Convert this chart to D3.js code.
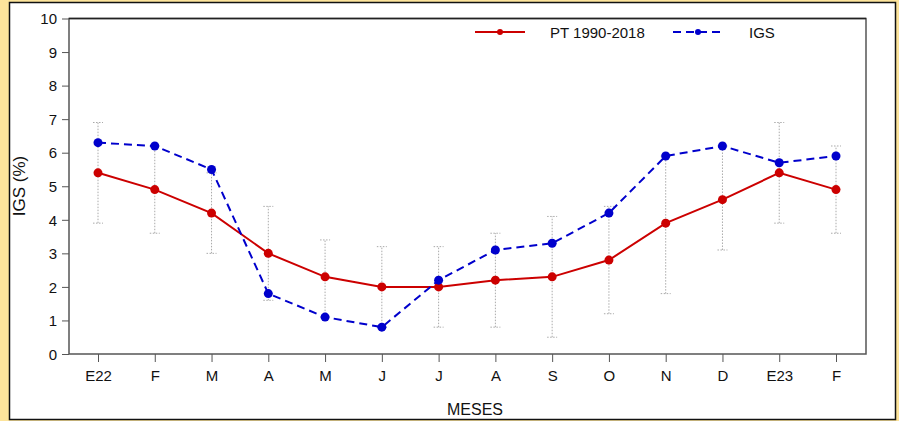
<!DOCTYPE html>
<html>
<head>
<meta charset="utf-8">
<script src="https://cdn.jsdelivr.net/npm/d3@7"></script>
<style>
  html, body { margin: 0; padding: 0; background: #fde49b; }
  svg { display: block; }
</style>
</head>
<body>
<svg id="chart" width="899" height="421"></svg>
<script>
const months = ["E22","F","M","A","M","J","J","A","S","O","N","D","E23","F"];
const ptValues  = [5.4, 4.9, 4.2, 3.0, 2.3, 2.0, 2.0, 2.2, 2.3, 2.8, 3.9, 4.6, 5.4, 4.9];
const igsValues = [6.3, 6.2, 5.5, 1.8, 1.1, 0.8, 2.2, 3.1, 3.3, 4.2, 5.9, 6.2, 5.7, 5.9];
const errLow  = [3.9, 3.6, 3.0, 1.6, 1.1, 0.8, 0.8, 0.8, 0.5, 1.2, 1.8, 3.1, 3.9, 3.6];
const errHigh = [6.9, 6.2, 5.4, 4.4, 3.4, 3.2, 3.2, 3.6, 4.1, 4.4, 5.9, 6.2, 6.9, 6.2];
const yTicks = [0,1,2,3,4,5,6,7,8,9,10];
const seriesNames = ["PT 1990-2018", "IGS"];

const svg = d3.select("#chart");
const font = "'Liberation Sans', Arial, sans-serif";

// white panel
svg.append("rect").attr("x", 9.5).attr("y", 2.5).attr("width", 886).attr("height", 417)
  .attr("fill", "#fff").attr("stroke", "#111").attr("stroke-width", 1.5);

const L = 69, R = 866, T = 18.5, B = 354;
const idx = d3.range(months.length);
const x = d3.scalePoint().domain(idx).range([98, 836]);
const y = d3.scaleLinear().domain([0, 10]).range([B, T]);

// y axis
const yAxis = svg.append("g").attr("transform", `translate(${L},0)`)
  .call(d3.axisLeft(y).tickValues(yTicks).tickSize(7).tickPadding(5).tickFormat(d3.format("d")));
yAxis.select(".domain").remove();
yAxis.selectAll("line").attr("stroke", "#555");
yAxis.selectAll("text").attr("font-family", font).attr("font-size", 15).attr("fill", "#111").attr("dy", "0.35em");

// x axis
const xAxis = svg.append("g").attr("transform", `translate(0,${B})`)
  .call(d3.axisBottom(x).tickSize(8).tickPadding(8).tickFormat(i => months[i]));
xAxis.select(".domain").remove();
xAxis.selectAll("line").attr("stroke", "#555");
xAxis.selectAll("text").attr("font-family", font).attr("font-size", 15).attr("fill", "#111");

// box
svg.append("rect").attr("x", L).attr("y", T).attr("width", R - L).attr("height", B - T)
  .attr("fill", "none").attr("stroke", "#555").attr("stroke-width", 1.5);
svg.append("line").attr("x1", L).attr("x2", R).attr("y1", T).attr("y2", T)
  .attr("stroke", "#222").attr("stroke-width", 1.5);

// error bars
const eb = svg.append("g").attr("stroke", "#aaa").attr("stroke-width", 1).attr("stroke-dasharray", "1.5,1.5").attr("fill", "none");
idx.forEach(i => {
  eb.append("line").attr("x1", x(i)).attr("x2", x(i)).attr("y1", y(errLow[i])).attr("y2", y(errHigh[i]));
  eb.append("line").attr("x1", x(i) - 5).attr("x2", x(i) + 5).attr("y1", y(errLow[i])).attr("y2", y(errLow[i]));
  eb.append("line").attr("x1", x(i) - 5).attr("x2", x(i) + 5).attr("y1", y(errHigh[i])).attr("y2", y(errHigh[i]));
});

const red = "#cc0000", blue = "#0000cc";
const line = d3.line().x((d, i) => x(i)).y(d => y(d));

svg.append("path").datum(ptValues).attr("d", line).attr("fill", "none")
  .attr("stroke", red).attr("stroke-width", 2);
svg.append("g").selectAll("circle").data(ptValues).join("circle")
  .attr("cx", (d, i) => x(i)).attr("cy", d => y(d)).attr("r", 4.5).attr("fill", red);

svg.append("path").datum(igsValues).attr("d", line).attr("fill", "none")
  .attr("stroke", blue).attr("stroke-width", 2).attr("stroke-dasharray", "8,5");
svg.append("g").selectAll("circle").data(igsValues).join("circle")
  .attr("cx", (d, i) => x(i)).attr("cy", d => y(d)).attr("r", 4.5).attr("fill", blue);

// legend
const lg = svg.append("g");
lg.append("line").attr("x1", 475).attr("x2", 525).attr("y1", 32).attr("y2", 32).attr("stroke", red).attr("stroke-width", 2);
lg.append("circle").attr("cx", 500).attr("cy", 32).attr("r", 3).attr("fill", red);
lg.append("text").attr("x", 550).attr("y", 37.5).text(seriesNames[0])
  .attr("font-family", font).attr("font-size", 15).attr("fill", "#111");
lg.append("line").attr("x1", 673).attr("x2", 725).attr("y1", 32).attr("y2", 32).attr("stroke", blue).attr("stroke-width", 2).attr("stroke-dasharray", "8,5");
lg.append("circle").attr("cx", 698).attr("cy", 32).attr("r", 3).attr("fill", blue);
lg.append("text").attr("x", 749).attr("y", 37.5).text(seriesNames[1])
  .attr("font-family", font).attr("font-size", 15).attr("fill", "#111");

// axis titles
svg.append("text").attr("x", 475).attr("y", 415).attr("text-anchor", "middle").text("MESES")
  .attr("font-family", font).attr("font-size", 16).attr("fill", "#111");
svg.append("text").attr("transform", "translate(25,186) rotate(-90)").attr("text-anchor", "middle").text("IGS (%)")
  .attr("font-family", font).attr("font-size", 17).attr("fill", "#111");
</script>
</body>
</html>
